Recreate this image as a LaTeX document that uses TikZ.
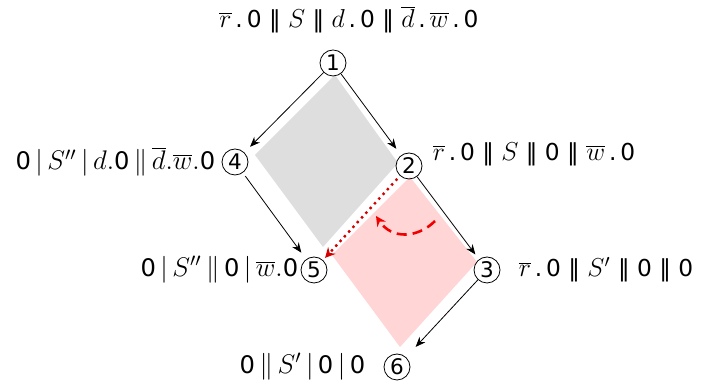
\documentclass[tikz,border=0pt]{standalone}
\usepackage{fix-cm}
\usepackage{fontspec}
\setmainfont{DejaVu Sans}[Scale=0.9]
\usetikzlibrary{arrows.meta,positioning}
\definecolor{regA}{HTML}{DEDEDE}
\definecolor{regB}{HTML}{FFD5D5}
\definecolor{swapred}{HTML}{D40000}
\definecolor{turnred}{HTML}{F20000}
\newcommand{\nil}{\mbox{0}}

\tikzset{
  state/.style={circle,draw,thin,inner sep=0pt,minimum size=13bp,font=\fontsize{12}{12}\selectfont},
  lbl/.style={inner sep=0pt,font=\fontsize{13}{15}\selectfont},
  biglbl/.style={inner sep=0pt,font=\fontsize{13.5}{15}\selectfont},
  arr/.style={-{Stealth[length=5bp,width=4bp]},thin}
}

\begin{document}
\begin{tikzpicture}[x=0.5bp,y=-0.5bp]
  \useasboundingbox (0,0) rectangle (707,391);

  % Regions
  \fill[regA] (335,75) -- (398,163) -- (323,247) -- (255,155) -- cycle;
  \fill[regB] (410,177) -- (477,262) -- (400,347) -- (332,255) -- cycle;

  % States
  \node[state] (n1) at (333,63) {1};
  \node[state] (n2) at (409,166) {2};
  \node[state] (n3) at (487,270) {3};
  \node[state] (n4) at (235,162) {4};
  \node[state] (n5) at (314,270) {5};
  \node[state] (n6) at (397,367) {6};

  % Terms
  \node[lbl,above=8bp of n1,xshift=8bp] (t1) {$\overline{r}$\,.\,0 ‖ $S$ ‖ $d$\,.\,0 ‖ $\overline{d}$\,.\,$\overline{w}$\,.\,0};
  \node[lbl,right=5bp of n2,yshift=6bp] (t2) {$\overline{r}$\,.\,0 ‖ $S$ ‖ 0 ‖ $\overline{w}$\,.\,0};
  \node[lbl,right=9bp of n3] (t3) {$\overline{r}$\,.\,0 ‖ $S'$ ‖ 0 ‖ 0};
  \node[biglbl,left=3bp of n4] (t4) {$\nil\,|\,S''\,|\,d.\nil\,\|\,\overline{d}.\overline{w}.\nil$};
  \node[biglbl,left=1bp of n5] (t5) {$\nil\,|\,S''\,\|\,\nil\,|\,\overline{w}.\nil$};
  \node[biglbl,left=9bp of n6] (t6) {$\nil\,\|\,S'\,|\,\nil\,|\,\nil$};

  % Arrows
  \draw[arr,shorten >=4bp] (n1) -- (n4);
  \draw[arr,shorten >=4bp] (n1) -- (n2);
  \draw[arr,shorten >=3bp] (n2) -- (n3);
  \draw[arr,shorten <=2bp,shorten >=4bp] (n4) -- (n5);
  \draw[arr,shorten >=7bp] (n3) -- (n6);

  % Swap
  \draw[swapred,line width=1.2pt,dotted,-{Stealth[length=5bp,width=5bp]},shorten <=2bp,shorten >=1.5bp] (n2) -- (n5);
  \coordinate (c1) at (435,221);
  \coordinate (c2) at (376,216);
  \draw[turnred,line width=1.3pt,dash pattern=on 5bp off 3bp,-{Stealth[length=5bp,width=5bp]}]
    (c1) .. controls (418,238) and (392,240) .. (c2);
\end{tikzpicture}
\end{document}
